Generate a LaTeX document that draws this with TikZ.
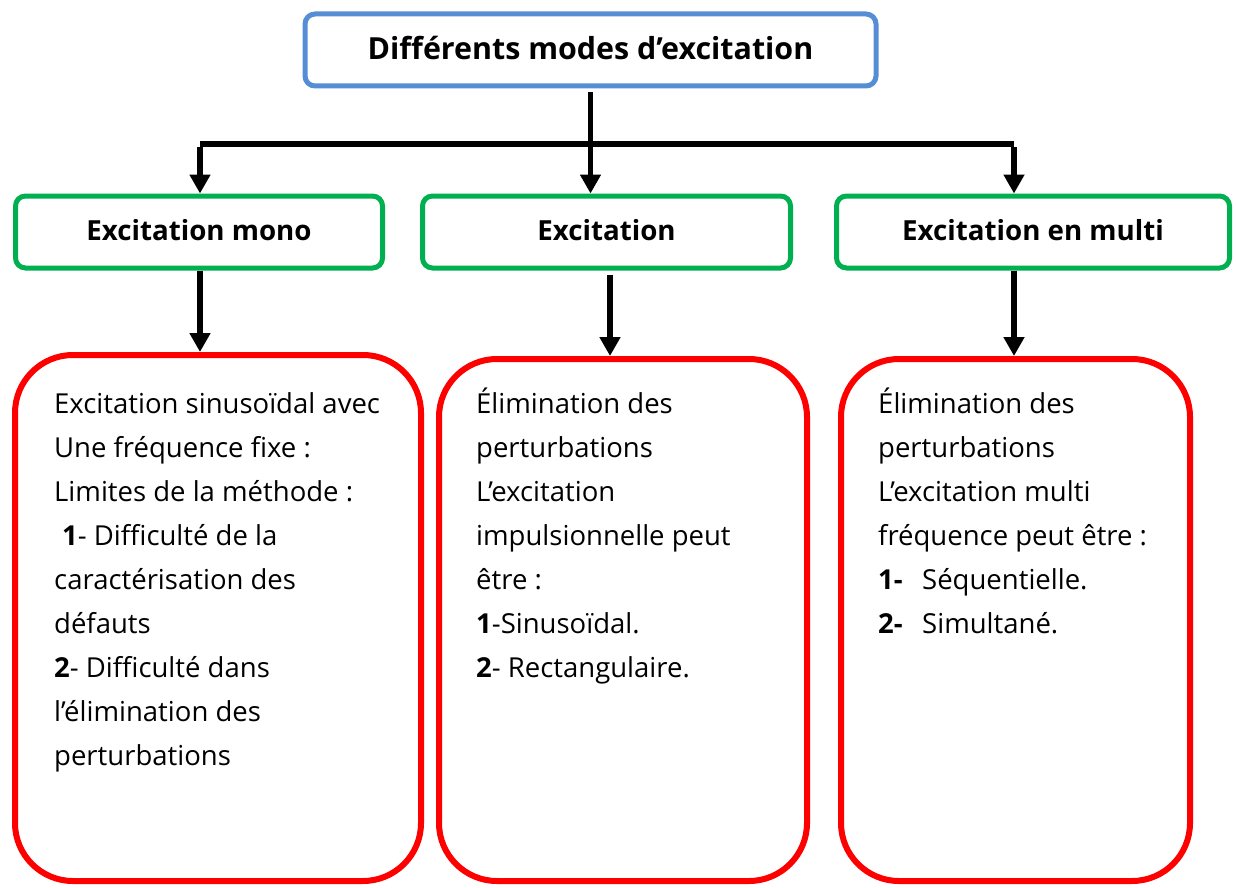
\documentclass[tikz,border=0pt]{standalone}
\usepackage{fontspec}
\setmainfont{Open Sans}
\usetikzlibrary{arrows.meta}
\definecolor{topblue}{RGB}{85,142,213}
\definecolor{boxgreen}{RGB}{0,176,80}
\definecolor{boxred}{RGB}{255,0,0}
\tikzset{
  topbox/.style={draw=topblue,line width=5pt,rounded corners=10pt,fill=white,minimum width=571pt,minimum height=72pt,inner sep=0pt,font=\fontsize{30.4}{36}\selectfont\bfseries},
  greenbox/.style={draw=boxgreen,line width=5pt,rounded corners=10pt,fill=white,minimum height=72pt,inner sep=0pt,font=\fontsize{27.7}{34}\selectfont\bfseries},
  redbox/.style={draw=boxred,line width=6pt,rounded corners=58pt,inner sep=0pt},
  bodytext/.style={anchor=north west,align=left,inner sep=0pt,font=\fontsize{27.5}{44}\selectfont},
  conn/.style={line width=5.5pt,-{Triangle[length=19pt,width=20pt]}},
  barline/.style={line width=6pt},
  ttl/.style={inner sep=0pt},
}
\newcommand{\fl}{\rule{0pt}{30pt}}
\begin{document}
\begin{tikzpicture}[x=1pt,y=-1pt]
\useasboundingbox (0,0) rectangle (1236,888);
% top
\node[topbox] (top) at (590.5,50) {\raisebox{4pt}{Différents modes d’excitation}};
% green boxes
\node[greenbox,minimum width=367pt] (g1) at (199,232) {\raisebox{5pt}{Excitation mono}};
\node[greenbox,minimum width=368pt] (g2) at (606.5,232) {\raisebox{5pt}{Excitation}};
\node[greenbox,minimum width=393pt] (g3) at (1033,232) {\raisebox{5pt}{Excitation en multi}};
% red boxes
\node[redbox,minimum width=406pt,minimum height=526pt] (r1) at (218,618) {};
\node[redbox,minimum width=368pt,minimum height=522pt] (r2) at (623,620) {};
\node[redbox,minimum width=349pt,minimum height=522pt] (r3) at (1015.5,620) {};
% texts
\node[bodytext] (t1) at (54,383) {\fl Excitation sinusoïdal avec\\
Une fréquence fixe :\\
Limites de la méthode :\\
\hspace*{8pt}\textbf{1}- Difficulté de la\\
caractérisation des\\
défauts\\
\textbf{2}- Difficulté dans\\
l’élimination des\\
perturbations};
\node[bodytext] (t2) at (476,383) {\fl Élimination des\\
perturbations\\
L’excitation\\
impulsionnelle peut\\
être :\\
\textbf{1}-Sinusoïdal.\\
\textbf{2}- Rectangulaire.};
\node[bodytext] (t3) at (878,383) {\fl Élimination des\\
perturbations\\
L’excitation multi\\
fréquence peut être :\\
\makebox[44pt][l]{\textbf{1-}}Séquentielle.\\
\makebox[44pt][l]{\textbf{2-}}Simultané.};
% connectors
\coordinate (bL) at (200,144);
\coordinate (bR) at (1014,144);
\draw[barline] (bL) -- (bR);
\draw[conn,shorten <=4pt] (top.south) -- (top.south |- g2.north);
\draw[conn] ([yshift=-3pt]bL) -- (bL |- g1.north);
\draw[conn] ([yshift=-3pt]bR) -- (bR |- g3.north);
\draw[conn] (g1.south -| bL) -- (r1.north -| bL);
\coordinate (m2) at (610,0);
\draw[conn,shorten <=4pt] (g2.south -| m2) -- (r2.north -| m2);
\draw[conn] (g3.south -| bR) -- (r3.north -| bR);
\end{tikzpicture}
\end{document}
